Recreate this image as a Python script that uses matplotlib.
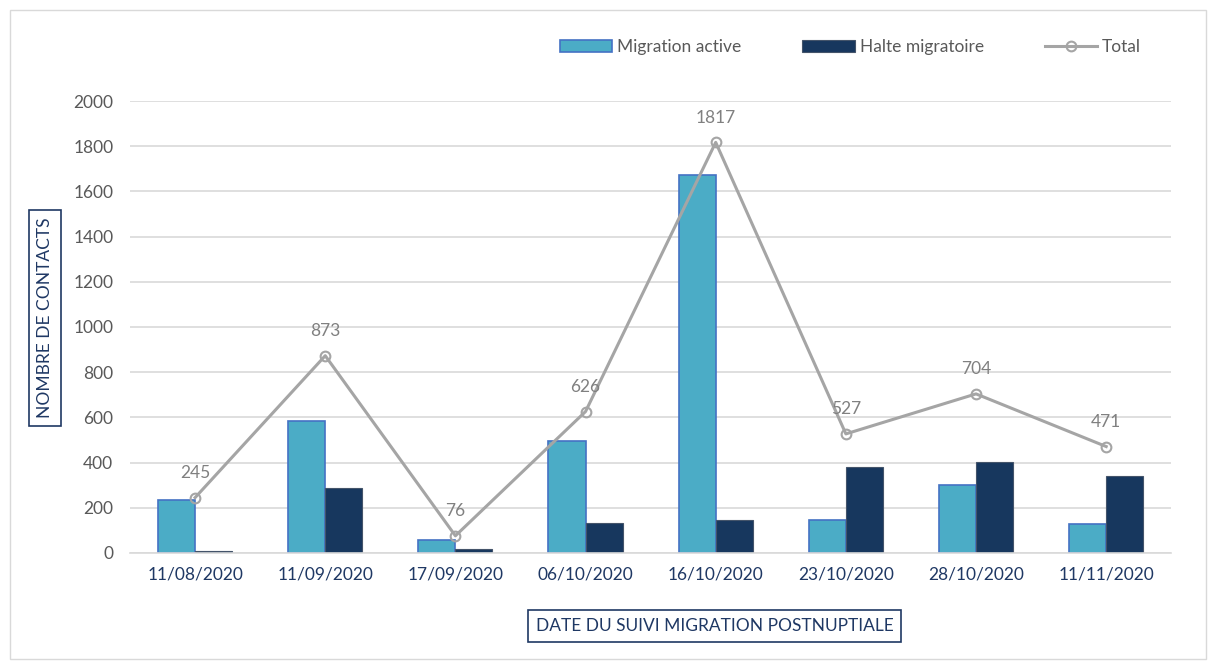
import numpy as np
import matplotlib.pyplot as plt
from matplotlib.patches import Rectangle

dates = ["11/08/2020", "11/09/2020", "17/09/2020", "06/10/2020",
         "16/10/2020", "23/10/2020", "28/10/2020", "11/11/2020"]
migration_active = [235, 584, 57, 494, 1672, 148, 303, 130]
halte_migratoire = [10, 289, 19, 132, 145, 379, 401, 341]
total = [245, 873, 76, 626, 1817, 527, 704, 471]
yticks = [0, 200, 400, 600, 800, 1000, 1200, 1400, 1600, 1800, 2000]

plt.rcParams['font.family'] = ['Lato', 'DejaVu Sans']

fig = plt.figure(figsize=(12.15, 6.61), dpi=100)
# light chart border
fig.patches.append(Rectangle((0.008, 0.003), 0.985, 0.982, transform=fig.transFigure,
                             fill=False, edgecolor='#D9D9D9', linewidth=1))

ax = fig.add_axes([0.107, 0.1634, 0.857, 0.6838])
x = np.arange(len(dates))
w = 0.285

b1 = ax.bar(x - w / 2, migration_active, w, color='#4BACC6', edgecolor='#4472C4',
            linewidth=1.2, label='Migration active', zorder=2)
b2 = ax.bar(x + w / 2, halte_migratoire, w, color='#17375E', edgecolor='#44546A',
            linewidth=0.8, label='Halte migratoire', zorder=2)
ln, = ax.plot(x, total, color='#A5A5A5', linewidth=2.2, marker='o', markersize=7,
              markerfacecolor='none', markeredgecolor='#A5A5A5', markeredgewidth=1.5,
              label='Total', zorder=3)

for xi, t in zip(x, total):
    ax.annotate(str(t), (xi, t), xytext=(0, 12), textcoords='offset points',
                ha='center', va='bottom', fontsize=12.5, color='#808080', zorder=4)

ax.set_xlim(-0.5, len(dates) - 0.5)
ax.set_ylim(0, 2000)
ax.set_yticks(yticks)
ax.set_xticks(x)
ax.set_xticklabels(dates, fontsize=12.5, color='#1F3864')
ax.tick_params(axis='y', labelsize=12.5, labelcolor='#595959', length=0, pad=12)
ax.tick_params(axis='x', length=0, pad=10)
ax.grid(axis='y', color='#D9D9D9', linewidth=1.2, zorder=0)
ax.set_axisbelow(True)
for s in ['top', 'right', 'left']:
    ax.spines[s].set_visible(False)
ax.spines['bottom'].set_color('#D9D9D9')
ax.spines['bottom'].set_linewidth(1.2)

box = dict(boxstyle='square,pad=0.45', facecolor='white', edgecolor='#1F3864', linewidth=1.2)
fig.text(0.037, 0.519, 'NOMBRE DE CONTACTS', rotation=90, ha='center', va='center',
         fontsize=12.5, color='#1F3864', bbox=box)
fig.text(0.588, 0.053, 'DATE DU SUIVI MIGRATION POSTNUPTIALE', ha='center', va='center',
         fontsize=12.5, color='#1F3864', bbox=box)

leg = fig.legend([b1, b2, ln], ['Migration active', 'Halte migratoire', 'Total'],
                 loc='center', bbox_to_anchor=(0.70, 0.929), ncol=3, frameon=False,
                 fontsize=12.5, handlelength=3.0, columnspacing=3.5, handletextpad=0.3)
for t in leg.get_texts():
    t.set_color('#595959')

fig.savefig('out.png', dpi=100)
